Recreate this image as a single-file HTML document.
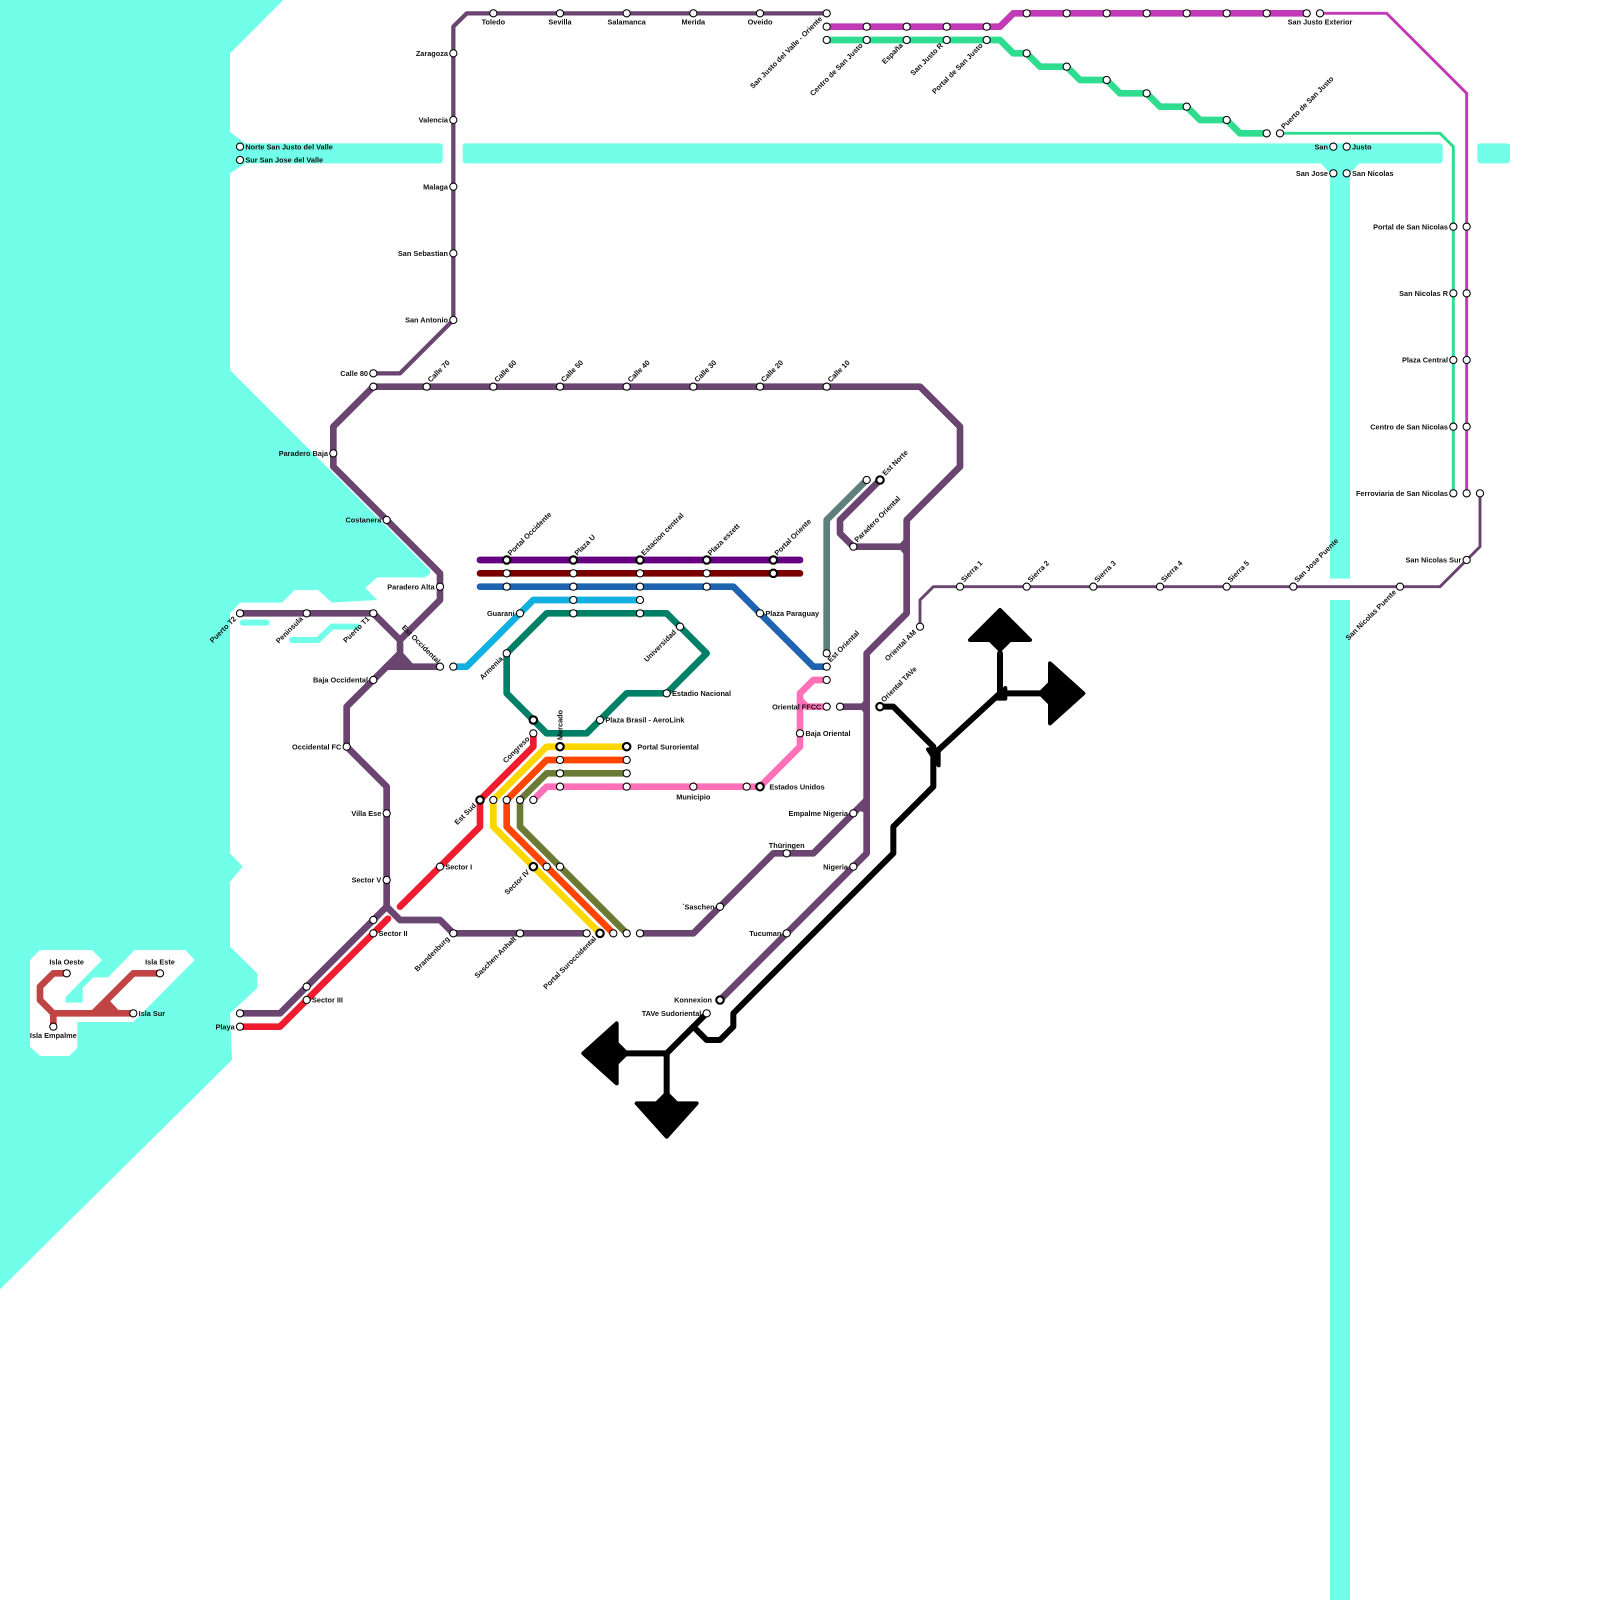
<!DOCTYPE html>
<html><head><meta charset="utf-8"><style>
html,body{margin:0;padding:0;background:#fff}
svg{display:block}
text{font-family:"Liberation Sans",sans-serif;font-weight:bold;font-size:0.55px;fill:#111}
.s{fill:#fff;stroke:#000;stroke-width:0.08}
.b{fill:#fff;stroke:#000;stroke-width:0.16}
.l{fill:none;stroke-linejoin:round;stroke-linecap:round}
</style></head><body>
<svg width="1600" height="1600" viewBox="0 0 120 120" xmlns="http://www.w3.org/2000/svg">
<rect width="120" height="120" fill="#fff"/>
<!-- water -->
<g fill="#72ffe9">
<polygon points="0,0 21.25,0 17.25,4 17.25,9.9 18.4,10.75 18.4,12.25 17.25,13 17.25,27.75 32.25,42.75 32.25,43 31.9,43.3 28.3,43.3 27.4,44.1 28.3,45 24.9,45.2 23.85,44.25 22.1,44.25 21.15,45.2 18,45.2 17.25,46 17.25,64 18.2,65 17.25,66.15 17.25,71 19.3,73 19.3,74.1 17.25,76 17.4,79.5 0,96.7"/>
<rect x="17.25" y="10.75" width="15.95" height="1.5" rx="0.2"/>
<rect x="34.7" y="10.75" width="73.5" height="1.5" rx="0.2"/>
<rect x="110.8" y="10.75" width="2.45" height="1.5" rx="0.2"/>
<polygon points="99,12.2 102,12.2 101.25,13 101.25,43.4 99.75,43.4 99.75,13"/>
<rect x="99.75" y="45" width="1.5" height="75"/>
</g>
<g class="l" stroke="#72ffe9" stroke-width="0.45">
<path d="M18.2,46.7 L20,46.7"/>
<path d="M21.9,48 L23.85,48 L24.9,47 L26.8,47"/>
</g>
<!-- islands -->
<polygon fill="#fff" points="2.25,72 3,71.25 6.9,71.25 7.65,72 4.9,74.8 4.9,75.2 6.2,75.2 6.2,74.1 7,73.3 8.1,73.3 10.1,71.25 13.9,71.25 14.6,72 10,76.65 5.8,76.65 5.8,78.6 5.2,79.2 3,79.2 2.25,78.5"/>
<g class="l" stroke="#c04444" stroke-width="0.5">
<path d="M5,73 L4,73 L3,74 L3,75 L4,76 L10,76 M4,76 L4,77 M12,73 L10,73 L7,76"/>
</g>
<polygon fill="#c04444" points="6.7,76.2 8,74.8 9.3,76.2"/>

<!-- purple network -->
<g class="l" stroke="#6a4570">
<path stroke-width="0.32" d="M34,24 L34,2 L35,1 L62,1 M28,28 L30,28 L34,24"/>
<path stroke-width="0.5" d="M28,29 L69,29 L72,32 L72,35 L68,39 L68,46 L65,49 L65,64 L64,65 L54,75"/>
<path stroke-width="0.5" d="M28,29 L25,32 L25,35 L33,43 L33,45 L30,48 L30,49 L26,53 L26,56 L29,59 L29,68 L28,69 L23,74 L21,76 L18,76"/>
<path stroke-width="0.5" d="M29,68 L30,69 L33,69 L34,70 L44,70"/>
<path stroke-width="0.5" d="M29,50 L33,50 M18,46 L28,46 L30,48"/>
<path stroke-width="0.5" d="M66,36 L63,39 L63,40 L64,41 L68,41 M63,53 L65,53 M65,60 L64,61 L61,64 L58,64 L52,70 L48,70"/>
<path stroke-width="0.22" d="M111,37 L111,41 L110,42 L108,44 L70,44 L69,45 L69,47"/>
</g>
<polygon fill="#6a4570" points="30,48.7 28.7,50.25 31.4,50.25"/>
<polygon fill="#6a4570" points="67.3,41 68,40.2 68,41.8"/>
<polygon fill="#6a4570" points="64.4,53 65,52.3 65,53.7"/>
<polygon fill="#6a4570" points="64.4,60.8 65,59.8 65,61"/>

<!-- magenta / green -->
<g class="l">
<path stroke="#c23ab6" stroke-width="0.5" d="M62,2 L75,2 L76,1 L98,1"/>
<path stroke="#c23ab6" stroke-width="0.22" d="M99,1 L104,1 L110,7 L110,37"/>
<path stroke="#2edd8e" stroke-width="0.5" d="M62,3 L75,3 L76,4 L77,4 L78,5 L80,5 L81,6 L83,6 L84,7 L86,7 L87,8 L89,8 L90,9 L92,9 L93,10 L95,10"/>
<path stroke="#2edd8e" stroke-width="0.22" d="M96,10 L108,10 L109,11 L109,37"/>
<path stroke="#5f7f7a" stroke-width="0.5" d="M65,36 L62,39 L62,49"/>
</g>

<!-- central lines -->
<g class="l" stroke-width="0.5">
<path stroke="#660080" d="M36,42 L60,42"/>
<path stroke="#7a0000" d="M36,43 L60,43"/>
<path stroke="#1e64b0" d="M36,44 L55,44 L61,50 L62,50"/>
<path stroke="#10b0e0" d="M34,50 L35,50 L40,45 L48,45"/>
<path stroke="#008066" d="M41,46 L50,46 L53,49 L50,52 L47,52 L44,55 L41,55 L38,52 L38,49 Z"/>
<path stroke="#ee1c2e" d="M18,77 L21,77 L29.1,68.9 M30,68 L36,62 L36,60 L40,56 L40,55"/>
<path stroke="#ffd700" d="M47,56 L41,56 L37,60 L37,62 L45,70"/>
<path stroke="#ff4500" d="M47,57 L41,57 L38,60 L38,62 L46,70"/>
<path stroke="#6b7b35" d="M47,58 L41,58 L39,60 L39,62 L47,70"/>
<path stroke="#ff70b8" d="M40,60 L41,59 L57,59 L60,56 L60,52 L61,51 L62,51 M60,52.5 L60.5,53 L62,53"/>
</g>

<!-- black TAVe -->
<g class="l" stroke="#000" stroke-width="0.45">
<path d="M66,53 L67,53 L70,56 L70,59 L67,62 L67,64 L55,76 L55,77 L54,78 L53,78 L52,77 M53,76 L50,79 L47,79 M50,79 L50,82.5 M70,56.6 L75,52 L75,49 M75,52 L78,52"/>
</g>
<g fill="#000" stroke="#000" stroke-width="0.3" stroke-linejoin="round">
<polygon points="75,45.75 77.25,48 75.75,48 75,48.75 74.25,48 72.75,48"/>
<polygon points="81.25,52 78.75,54.25 78.75,52.75 78,52 78.75,51.25 78.75,49.75"/>
<polygon points="43.75,79 46.25,76.75 46.25,78.25 47,79 46.25,79.75 46.25,81.25"/>
<polygon points="50,85.25 47.75,82.75 49.25,82.75 50,82 50.75,82.75 52.25,82.75"/>
<polygon points="69.6,56.2 70.4,56.2 70.4,57.4"/>
<polygon points="74.6,52.4 75.4,51.6 75.4,52.4"/>
</g>

<!-- stations -->
<g class="s" r="0.27">
<circle cx="5" cy="73" r="0.27"/><circle cx="12" cy="73" r="0.27"/><circle cx="10" cy="76" r="0.27"/><circle cx="4" cy="77" r="0.27"/>
<circle cx="18" cy="11" r="0.27"/><circle cx="18" cy="12" r="0.27"/>
<circle cx="34" cy="4" r="0.27"/><circle cx="34" cy="9" r="0.27"/><circle cx="34" cy="14" r="0.27"/><circle cx="34" cy="19" r="0.27"/><circle cx="34" cy="24" r="0.27"/>
<circle cx="37" cy="1" r="0.27"/><circle cx="42" cy="1" r="0.27"/><circle cx="47" cy="1" r="0.27"/><circle cx="52" cy="1" r="0.27"/><circle cx="57" cy="1" r="0.27"/><circle cx="62" cy="1" r="0.27"/>
<circle cx="62" cy="2" r="0.27"/><circle cx="65" cy="2" r="0.27"/><circle cx="68" cy="2" r="0.27"/><circle cx="71" cy="2" r="0.27"/><circle cx="74" cy="2" r="0.27"/>
<circle cx="77" cy="1" r="0.27"/><circle cx="80" cy="1" r="0.27"/><circle cx="83" cy="1" r="0.27"/><circle cx="86" cy="1" r="0.27"/><circle cx="89" cy="1" r="0.27"/><circle cx="92" cy="1" r="0.27"/><circle cx="95" cy="1" r="0.27"/><circle cx="98" cy="1" r="0.27"/><circle cx="99" cy="1" r="0.27"/>
<circle cx="62" cy="3" r="0.27"/><circle cx="65" cy="3" r="0.27"/><circle cx="68" cy="3" r="0.27"/><circle cx="71" cy="3" r="0.27"/><circle cx="74" cy="3" r="0.27"/>
<circle cx="77" cy="4" r="0.27"/><circle cx="80" cy="5" r="0.27"/><circle cx="83" cy="6" r="0.27"/><circle cx="86" cy="7" r="0.27"/><circle cx="89" cy="8" r="0.27"/><circle cx="92" cy="9" r="0.27"/><circle cx="95" cy="10" r="0.27"/><circle cx="96" cy="10" r="0.27"/>
<circle cx="100" cy="11" r="0.27"/><circle cx="101" cy="11" r="0.27"/><circle cx="100" cy="13" r="0.27"/><circle cx="101" cy="13" r="0.27"/>
<circle cx="109" cy="17" r="0.27"/><circle cx="109" cy="22" r="0.27"/><circle cx="109" cy="27" r="0.27"/><circle cx="109" cy="32" r="0.27"/><circle cx="109" cy="37" r="0.27"/>
<circle cx="110" cy="17" r="0.27"/><circle cx="110" cy="22" r="0.27"/><circle cx="110" cy="27" r="0.27"/><circle cx="110" cy="32" r="0.27"/><circle cx="110" cy="37" r="0.27"/>
<circle cx="111" cy="37" r="0.27"/><circle cx="110" cy="42" r="0.27"/><circle cx="105" cy="44" r="0.27"/>
<circle cx="72" cy="44" r="0.27"/><circle cx="77" cy="44" r="0.27"/><circle cx="82" cy="44" r="0.27"/><circle cx="87" cy="44" r="0.27"/><circle cx="92" cy="44" r="0.27"/><circle cx="97" cy="44" r="0.27"/><circle cx="69" cy="47" r="0.27"/>
<circle cx="28" cy="28" r="0.27"/><circle cx="28" cy="29" r="0.27"/>
<circle cx="32" cy="29" r="0.27"/><circle cx="37" cy="29" r="0.27"/><circle cx="42" cy="29" r="0.27"/><circle cx="47" cy="29" r="0.27"/><circle cx="52" cy="29" r="0.27"/><circle cx="57" cy="29" r="0.27"/><circle cx="62" cy="29" r="0.27"/>
<circle cx="25" cy="34" r="0.27"/><circle cx="29" cy="39" r="0.27"/><circle cx="33" cy="44" r="0.27"/>
<circle cx="18" cy="46" r="0.27"/><circle cx="23" cy="46" r="0.27"/><circle cx="28" cy="46" r="0.27"/>
<circle cx="33" cy="50" r="0.27"/><circle cx="34" cy="50" r="0.27"/><circle cx="28" cy="51" r="0.27"/><circle cx="26" cy="56" r="0.27"/><circle cx="29" cy="61" r="0.27"/><circle cx="29" cy="66" r="0.27"/>
<circle cx="28" cy="69" r="0.27"/><circle cx="28" cy="70" r="0.27"/><circle cx="23" cy="74" r="0.27"/><circle cx="23" cy="75" r="0.27"/><circle cx="18" cy="76" r="0.27"/><circle cx="18" cy="77" r="0.27"/>
<circle cx="34" cy="70" r="0.27"/><circle cx="39" cy="70" r="0.27"/><circle cx="44" cy="70" r="0.27"/><circle cx="46" cy="70" r="0.27"/><circle cx="47" cy="70" r="0.27"/><circle cx="48" cy="70" r="0.27"/>
<circle cx="33" cy="65" r="0.27"/><circle cx="40" cy="55" r="0.27"/>
<circle cx="37" cy="60" r="0.27"/><circle cx="38" cy="60" r="0.27"/><circle cx="39" cy="60" r="0.27"/><circle cx="40" cy="60" r="0.27"/>
<circle cx="41" cy="65" r="0.27"/><circle cx="42" cy="65" r="0.27"/>
<circle cx="42" cy="57" r="0.27"/><circle cx="47" cy="57" r="0.27"/><circle cx="42" cy="58" r="0.27"/><circle cx="47" cy="58" r="0.27"/>
<circle cx="42" cy="59" r="0.27"/><circle cx="47" cy="59" r="0.27"/><circle cx="52" cy="59" r="0.27"/><circle cx="56" cy="59" r="0.27"/>
<circle cx="60" cy="55" r="0.27"/><circle cx="62" cy="51" r="0.27"/><circle cx="62" cy="53" r="0.27"/><circle cx="63" cy="53" r="0.27"/>
<circle cx="38" cy="43" r="0.27"/><circle cx="43" cy="43" r="0.27"/><circle cx="48" cy="43" r="0.27"/><circle cx="53" cy="43" r="0.27"/>
<circle cx="38" cy="44" r="0.27"/><circle cx="43" cy="44" r="0.27"/><circle cx="48" cy="44" r="0.27"/><circle cx="53" cy="44" r="0.27"/><circle cx="57" cy="46" r="0.27"/><circle cx="62" cy="50" r="0.27"/>
<circle cx="39" cy="46" r="0.27"/><circle cx="43" cy="45" r="0.27"/><circle cx="48" cy="45" r="0.27"/>
<circle cx="43" cy="46" r="0.27"/><circle cx="48" cy="46" r="0.27"/><circle cx="51" cy="47" r="0.27"/><circle cx="50" cy="52" r="0.27"/><circle cx="45" cy="54" r="0.27"/><circle cx="38" cy="49" r="0.27"/>
<circle cx="65" cy="36" r="0.27"/><circle cx="62" cy="49" r="0.27"/><circle cx="64" cy="41" r="0.27"/>
<circle cx="64" cy="61" r="0.27"/><circle cx="59" cy="64" r="0.27"/><circle cx="54" cy="68" r="0.27"/><circle cx="64" cy="65" r="0.27"/><circle cx="59" cy="70" r="0.27"/>
<circle cx="53" cy="76" r="0.27"/>
</g>
<g class="b">
<circle cx="38" cy="42" r="0.28"/><circle cx="43" cy="42" r="0.28"/><circle cx="48" cy="42" r="0.28"/><circle cx="53" cy="42" r="0.28"/><circle cx="58" cy="42" r="0.28"/><circle cx="58" cy="43" r="0.28"/>
<circle cx="36" cy="60" r="0.28"/><circle cx="40" cy="54" r="0.28"/><circle cx="42" cy="56" r="0.28"/><circle cx="47" cy="56" r="0.28"/><circle cx="40" cy="65" r="0.28"/><circle cx="45" cy="70" r="0.28"/>
<circle cx="57" cy="59" r="0.28"/><circle cx="66" cy="36" r="0.28"/><circle cx="66" cy="53" r="0.28"/><circle cx="54" cy="75" r="0.28"/>
</g>

<!-- labels -->
<g>
<text x="5" y="72.35" text-anchor="middle">Isla Oeste</text>
<text x="12" y="72.35" text-anchor="middle">Isla Este</text>
<text x="10.4" y="76.2">Isla Sur</text>
<text x="4" y="77.85" text-anchor="middle">Isla Empalme</text>
<text x="18.4" y="11.2">Norte San Justo del Valle</text>
<text x="18.4" y="12.2">Sur San Jose del Valle</text>
<g text-anchor="end">
<text x="33.6" y="4.2">Zaragoza</text><text x="33.6" y="9.2">Valencia</text><text x="33.6" y="14.2">Malaga</text><text x="33.6" y="19.2">San Sebastian</text><text x="33.6" y="24.2">San Antonio</text>
<text x="27.6" y="28.2">Calle 80</text><text x="24.6" y="34.2">Paradero Baja</text><text x="28.6" y="39.2">Costanera</text><text x="32.6" y="44.2">Paradero Alta</text>
<text x="27.6" y="51.2">Baja Occidental</text><text x="25.6" y="56.2">Occidental FC</text><text x="28.6" y="61.2">Villa Ese</text><text x="28.6" y="66.2">Sector V</text><text x="17.6" y="77.2">Playa</text>
<text x="38.6" y="46.2">Guarani</text><text x="61.6" y="53.2">Oriental FFCC</text><text x="63.6" y="61.2">Empalme Nigeria</text><text x="63.6" y="65.2">Nigeria</text>
<text x="53.6" y="68.2">`Saschen</text><text x="58.6" y="70.2">Tucuman</text><text x="53.4" y="75.2">Konnexion</text><text x="52.6" y="76.2">TAVe Sudoriental</text>
<text x="109.6" y="42.2">San Nicolas Sur</text>
<text x="108.6" y="17.2">Portal de San Nicolas</text><text x="108.6" y="22.2">San Nicolas R</text><text x="108.6" y="27.2">Plaza Central</text><text x="108.6" y="32.2">Centro de San Nicolas</text><text x="108.6" y="37.2">Ferroviaria de San Nicolas</text>
<text x="99.6" y="11.2">San</text><text x="99.6" y="13.2">San Jose</text>
</g>
<text x="101.4" y="11.2">Justo</text><text x="101.4" y="13.2">San Nicolas</text>
<g text-anchor="middle">
<text x="37" y="1.85">Toledo</text><text x="42" y="1.85">Sevilla</text><text x="47" y="1.85">Salamanca</text><text x="52" y="1.85">Merida</text><text x="57" y="1.85">Oveido</text>
<text x="99" y="1.85">San Justo Exterior</text><text x="52" y="59.95">Municipio</text><text x="59" y="63.6">Thüringen</text>
</g>
<text x="28.4" y="70.2">Sector II</text><text x="23.4" y="75.2">Sector III</text><text x="33.4" y="65.2">Sector I</text>
<text x="47.8" y="56.2">Portal Suroriental</text><text x="57.7" y="59.2">Estados Unidos</text><text x="60.4" y="55.2">Baja Oriental</text>
<text x="57.4" y="46.2">Plaza Paraguay</text><text x="50.4" y="52.2">Estadio Nacional</text><text x="45.4" y="54.2">Plaza Brasil - AeroLink</text>
<text transform="translate(42.2,55.5) rotate(-90)">Mercado</text>
<!-- rotated up-right (start) -->
<text transform="translate(32.3,28.7) rotate(-45)">Calle 70</text>
<text transform="translate(37.3,28.7) rotate(-45)">Calle 60</text>
<text transform="translate(42.3,28.7) rotate(-45)">Calle 50</text>
<text transform="translate(47.3,28.7) rotate(-45)">Calle 40</text>
<text transform="translate(52.3,28.7) rotate(-45)">Calle 30</text>
<text transform="translate(57.3,28.7) rotate(-45)">Calle 20</text>
<text transform="translate(62.3,28.7) rotate(-45)">Calle 10</text>
<text transform="translate(38.3,41.7) rotate(-45)">Portal Occidente</text>
<text transform="translate(43.3,41.7) rotate(-45)">Plaza U</text>
<text transform="translate(48.3,41.7) rotate(-45)">Estacion central</text>
<text transform="translate(53.3,41.7) rotate(-45)">Plaza eszett</text>
<text transform="translate(58.3,41.7) rotate(-45)">Portal Oriente</text>
<text transform="translate(62.3,49.7) rotate(-45)">Est Oriental</text>
<text transform="translate(66.4,35.7) rotate(-45)">Est Norte</text>
<text transform="translate(64.3,40.7) rotate(-45)">Paradero Oriental</text>
<text transform="translate(66.3,52.7) rotate(-45)">Oriental TAVe</text>
<text transform="translate(72.3,43.7) rotate(-45)">Sierra 1</text>
<text transform="translate(77.3,43.7) rotate(-45)">Sierra 2</text>
<text transform="translate(82.3,43.7) rotate(-45)">Sierra 3</text>
<text transform="translate(87.3,43.7) rotate(-45)">Sierra 4</text>
<text transform="translate(92.3,43.7) rotate(-45)">Sierra 5</text>
<text transform="translate(97.3,43.7) rotate(-45)">San Jose Puente</text>
<text transform="translate(96.3,9.7) rotate(-45)">Puerto de San Justo</text>
<!-- rotated down-left (end) -->
<g text-anchor="end">
<text transform="translate(61.7,1.45) rotate(-45)">San Justo del Valle - Oriente</text>
<text transform="translate(64.75,3.45) rotate(-45)">Centro de San Justo</text>
<text transform="translate(67.75,3.45) rotate(-45)">España</text>
<text transform="translate(70.75,3.45) rotate(-45)">San Justo R</text>
<text transform="translate(73.75,3.45) rotate(-45)">Portal de San Justo</text>
<text transform="translate(17.75,46.45) rotate(-45)">Puerto T2</text>
<text transform="translate(22.75,46.45) rotate(-45)">Peninsula</text>
<text transform="translate(27.75,46.45) rotate(-45)">Puerto T1</text>
<text transform="translate(33.75,70.45) rotate(-45)">Brandenburg</text>
<text transform="translate(38.75,70.45) rotate(-45)">Saschen-Anhalt</text>
<text transform="translate(44.75,70.45) rotate(-45)">Portal Suroccidental</text>
<text transform="translate(35.75,60.45) rotate(-45)">Est Sud</text>
<text transform="translate(39.75,55.45) rotate(-45)">Congreso</text>
<text transform="translate(39.75,65.45) rotate(-45)">Sector IV</text>
<text transform="translate(50.75,47.45) rotate(-45)">Universidad</text>
<text transform="translate(37.75,49.45) rotate(-45)">Armenia</text>
<text transform="translate(68.75,47.45) rotate(-45)">Oriental AM</text>
<text transform="translate(104.75,44.45) rotate(-45)">San Nicolas Puente</text>
<text transform="translate(32.8,49.8) rotate(45)">Est Occidental</text>
</g>
</g>
</svg>
</body></html>
